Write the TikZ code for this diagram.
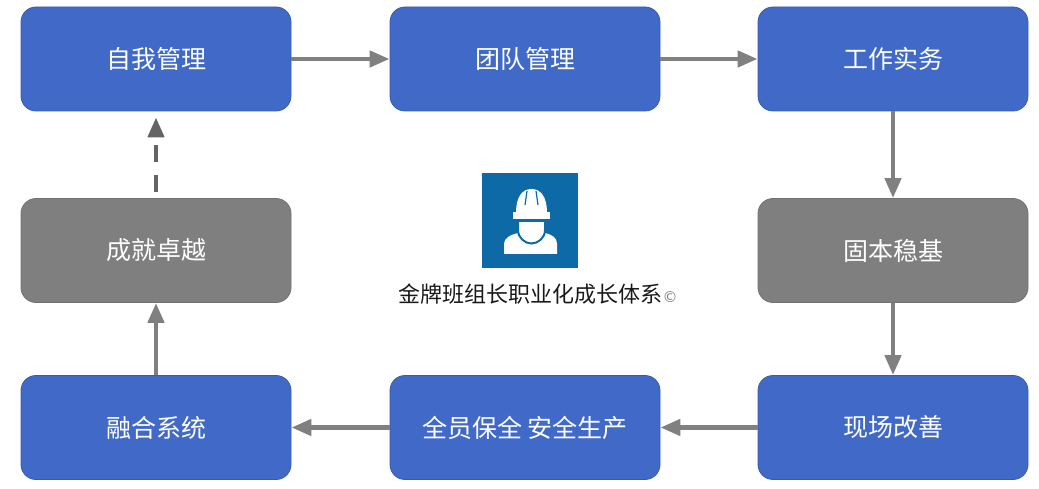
\documentclass[tikz,border=0pt]{standalone}
\usepackage{fontspec}
\setmainfont{Noto Sans CJK SC}
\newfontfamily\symfont{DejaVu Sans}
\usepackage{tikz}
\usetikzlibrary{arrows.meta, positioning}

\definecolor{stepblue}{RGB}{65, 106, 200}
\definecolor{stepblueline}{RGB}{55, 90, 175}
\definecolor{stepgray}{RGB}{127, 127, 127}
\definecolor{arrowgray}{RGB}{128, 128, 128}
\definecolor{dashgray}{RGB}{100, 100, 100}
\definecolor{iconblue}{RGB}{14, 106, 167}

\tikzset{
  stepbox/.style={rounded corners=15pt, minimum width=270pt, minimum height=104pt,
    inner sep=0pt, text=white, font=\fontsize{25}{28}\selectfont},
  blueStep/.style={stepbox, fill=stepblue, draw=stepblueline, line width=0.8pt},
  grayStep/.style={stepbox, fill=stepgray, draw=stepgray!90!black, line width=0.8pt},
  flow/.style={draw=arrowgray, line width=4.5pt, -{Triangle[length=20pt, width=16pt]}},
  dashflow/.style={flow, draw=dashgray, dash pattern=on 17pt off 13pt,
    shorten <=6pt, shorten >=6pt}
}

\begin{document}
\begin{tikzpicture}[x=1pt, y=-1pt]
  \useasboundingbox (0,0) rectangle (1039,489);

  % Top row
  \node[blueStep] (self) at (156, 59) {自我管理};
  \node[blueStep] (team) at (525, 59) {团队管理};
  \node[blueStep] (work) at (893, 59) {工作实务};

  % Middle row
  \node[grayStep] (excel) at (156, 250.5) {成就卓越};
  \node[grayStep] (base) at (893, 250.5) {固本稳基};

  % Bottom row
  \node[blueStep] (fuse) at (156, 427.5) {融合系统};
  \node[blueStep] (safe) at (525, 427.5) {全员保全 安全生产};
  \node[blueStep] (site) at (893, 427.5) {现场改善};

  % Icon
  \node[fill=iconblue, minimum width=96pt, minimum height=95pt, inner sep=0pt] (icon) at (530, 220.5) {};
  \fill[white] (516,213) .. controls (516,197) and (522,189) .. (531.5,189)
    .. controls (541,189) and (547,197) .. (547,213) -- cycle;
  \fill[white] (513,212.5) rectangle (550,219);
  \draw[iconblue, line width=1.2pt] (527,191) -- (525,205) (536,191) -- (538,205);
  \fill[white] (504,254) -- (504,244) .. controls (504,238) and (510,235) .. (518,233)
    -- (531.5,244) -- (545,233) .. controls (553,235) and (557,238) .. (557,244)
    -- (557,254) -- cycle;
  \filldraw[fill=white, draw=iconblue, line width=2pt] (518,221) -- (518,230)
    .. controls (518,238) and (525,243.5) .. (531.5,243.5)
    .. controls (538,243.5) and (545,238) .. (545,230) -- (545,221) -- cycle;
  \node[text=black!90, font=\fontsize{22}{26}\selectfont, inner sep=0pt] (title) at (538, 294)
    {金牌班组长职业化成长体系{\color{gray}\symfont\fontsize{15}{18}\selectfont ©}};

  % Connectors
  \draw[flow] (self) -- (team);
  \draw[flow] (team) -- (work);
  \draw[flow] (work) -- (base);
  \draw[flow] (base) -- (site);
  \draw[flow] (site) -- (safe);
  \draw[flow] (safe) -- (fuse);
  \draw[flow] (fuse) -- (excel);
  \draw[dashflow] (excel) -- (self);
\end{tikzpicture}
\end{document}
